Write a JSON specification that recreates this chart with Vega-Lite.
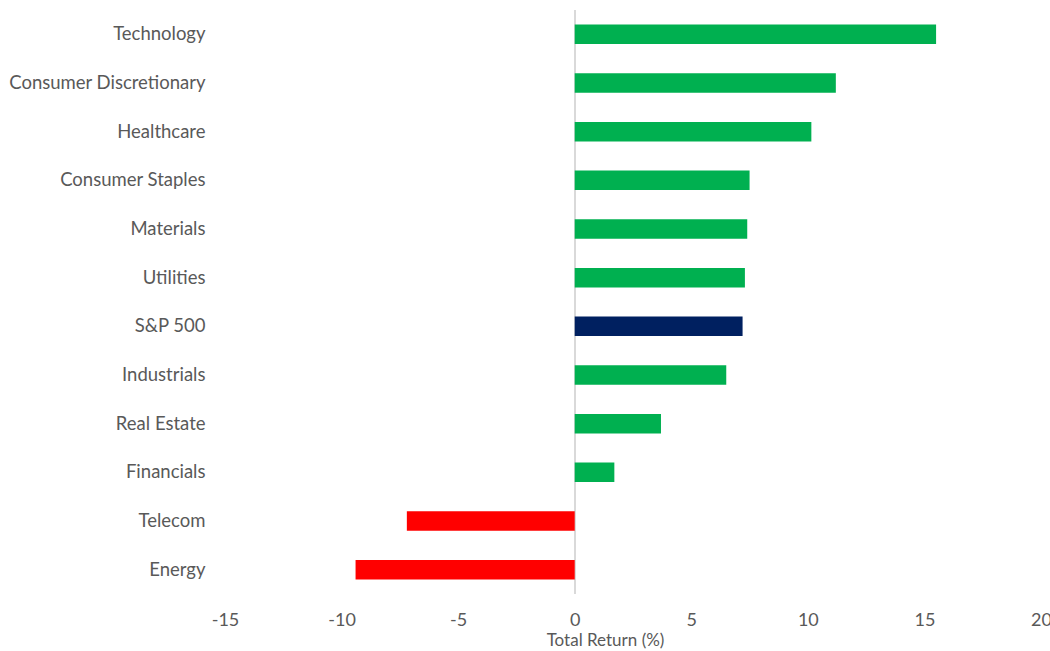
{
  "$schema": "https://vega.github.io/schema/vega-lite/v6.json",
  "width": 816,
  "height": 584,
  "autosize": {"type": "none"},
  "padding": {"left": 225, "top": 10, "right": 9, "bottom": 57},
  "background": "white",
  "config": {
    "view": {"stroke": null},
    "font": "Lato",
    "axis": {"labelFont": "Lato", "titleFont": "Lato", "labelColor": "#595959", "titleColor": "#595959"}
  },
  "data": {
    "values": [
      {"sector": "Technology", "ret": 15.5, "type": "pos"},
      {"sector": "Consumer Discretionary", "ret": 11.2, "type": "pos"},
      {"sector": "Healthcare", "ret": 10.15, "type": "pos"},
      {"sector": "Consumer Staples", "ret": 7.5, "type": "pos"},
      {"sector": "Materials", "ret": 7.4, "type": "pos"},
      {"sector": "Utilities", "ret": 7.3, "type": "pos"},
      {"sector": "S&P 500", "ret": 7.2, "type": "index"},
      {"sector": "Industrials", "ret": 6.5, "type": "pos"},
      {"sector": "Real Estate", "ret": 3.7, "type": "pos"},
      {"sector": "Financials", "ret": 1.7, "type": "pos"},
      {"sector": "Telecom", "ret": -7.2, "type": "neg"},
      {"sector": "Energy", "ret": -9.4, "type": "neg"}
    ]
  },
  "layer": [
    {
      "mark": {"type": "rule", "color": "#D9D9D9", "strokeWidth": 1.2},
      "encoding": {"x": {"datum": 0}}
    },
    {
      "mark": {"type": "bar"},
      "encoding": {
        "y": {
          "field": "sector", "type": "nominal", "sort": null,
          "scale": {"paddingInner": 0.6, "paddingOuter": 0.3},
          "axis": {"title": null, "ticks": false, "domain": false, "labelPadding": 20, "labelFontSize": 18.5, "labelLimit": 300}
        },
        "x": {
          "field": "ret", "type": "quantitative",
          "scale": {"domain": [-15, 20], "nice": false, "zero": false},
          "axis": {
            "values": [-15, -10, -5, 0, 5, 10, 15, 20],
            "labelExpr": "'' + datum.value",
            "labelFlush": false,
            "title": "Total Return (%)",
            "grid": false, "domain": false, "ticks": false,
            "labelPadding": 17, "labelFontSize": 18,
            "titleFontSize": 17, "titleFontWeight": "normal",
            "titleX": 380, "titleY": 51, "titleBaseline": "alphabetic", "titleAlign": "center"
          }
        },
        "color": {
          "field": "type", "type": "nominal",
          "scale": {"domain": ["pos", "index", "neg"], "range": ["#00B050", "#002060", "#FF0000"]},
          "legend": null
        }
      }
    }
  ]
}
